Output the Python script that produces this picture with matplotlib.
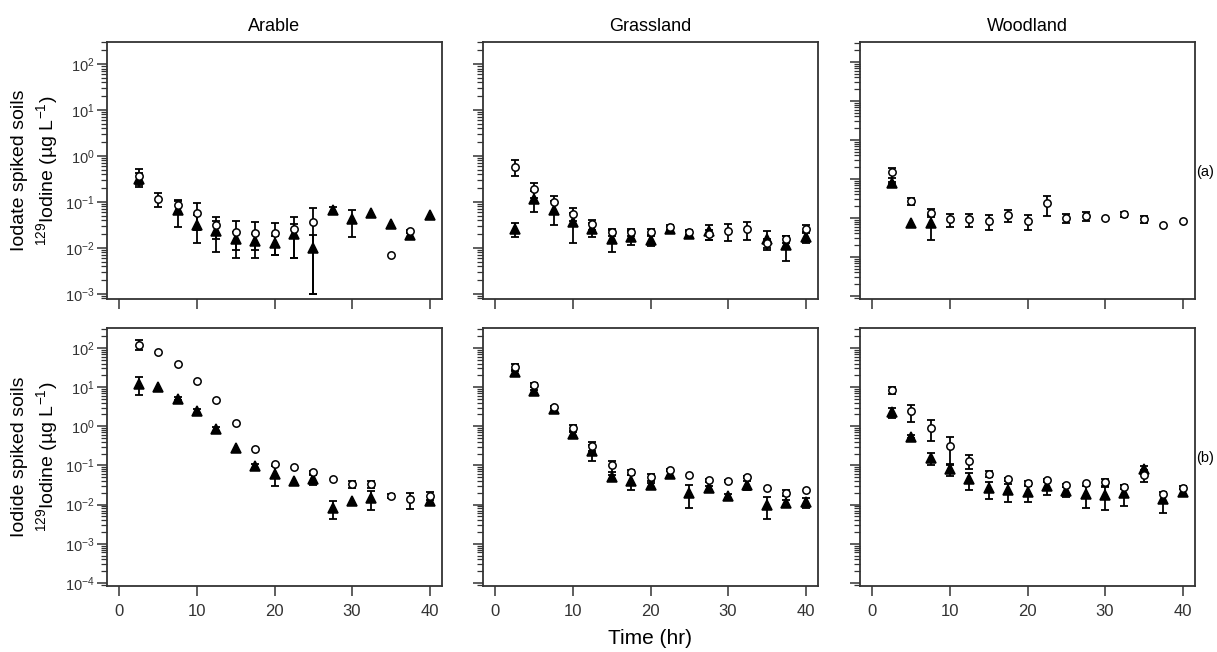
import numpy as np
import matplotlib
matplotlib.use("Agg")
import matplotlib.pyplot as plt
from matplotlib.ticker import LogLocator, NullFormatter, FixedLocator, FixedFormatter

plt.rcParams['font.family'] = ['Liberation Sans', 'DejaVu Sans']
plt.rcParams['mathtext.fontset'] = 'custom'
plt.rcParams['mathtext.rm'] = 'Liberation Sans'
plt.rcParams['mathtext.it'] = 'Liberation Sans:italic'
plt.rcParams['mathtext.bf'] = 'Liberation Sans:bold'

# ---------------- data ----------------
time_hr = [2.5, 5, 7.5, 10, 12.5, 15, 17.5, 20, 22.5, 25, 27.5, 30, 32.5, 35, 37.5, 40]
nan = np.nan

columns = ["Arable", "Grassland", "Woodland"]
row_labels = ["Iodate spiked soils", "Iodide spiked soils"]
panel_tags = ["(a)", "(b)"]

# Iodate spiked soils (row a)
arable_iodate_circ = [0.37, 0.117, 0.085, 0.059, 0.032, 0.022, 0.021, 0.021, 0.026, 0.037, nan, nan, nan, 0.0071, 0.023, nan]
arable_iodate_circ_sd = [0.14, 0.038, 0.025, 0.034, 0.016, 0.016, 0.015, 0.014, 0.02, 0.036, 0, 0, 0, 0, 0.002, 0]
arable_iodate_tri = [0.32, nan, 0.067, 0.032, 0.023, 0.0155, 0.0145, 0.0126, 0.02, 0.0099, 0.067, 0.042, 0.059, 0.033, 0.019, 0.052]
arable_iodate_tri_sd = [0.11, 0, 0.039, 0.019, 0.015, 0.0065, 0.0055, 0.0056, 0.014, 0.0089, 0.012, 0.025, 0, 0, 0.003, 0]

grass_iodate_circ = [0.59, 0.19, 0.098, 0.056, 0.033, 0.022, 0.022, 0.022, 0.028, 0.022, 0.020, 0.0235, 0.026, 0.013, 0.0156, 0.026]
grass_iodate_circ_sd = [0.22, 0.07, 0.04, 0.017, 0.008, 0.004, 0.004, 0.004, 0.003, 0.003, 0.005, 0.009, 0.011, 0.003, 0.003, 0.005]
grass_iodate_tri = [0.026, 0.117, 0.068, 0.036, 0.026, 0.016, 0.0177, 0.015, 0.026, 0.02, 0.023, nan, nan, 0.016, 0.0117, 0.0177]
grass_iodate_tri_sd = [0.009, 0.055, 0.037, 0.023, 0.009, 0.008, 0.006, 0.004, 0.002, 0.003, 0.008, 0, 0, 0.007, 0.0065, 0.005]

wood_iodate_circ = [0.149, 0.027, 0.0135, 0.0094, 0.0094, 0.0083, 0.0117, 0.0083, 0.0234, 0.0102, 0.0112, 0.0102, 0.0123, 0.0094, 0.0065, 0.0083]
wood_iodate_circ_sd = [0.044, 0.005, 0.003, 0.0035, 0.0035, 0.0034, 0.004, 0.0034, 0.012, 0.0027, 0.003, 0, 0.0017, 0.0018, 0, 0]
wood_iodate_tri = [0.080, 0.0074, 0.0072, nan, nan, nan, nan, nan, nan, nan, nan, nan, nan, nan, nan, nan]
wood_iodate_tri_sd = [0.005, 0, 0.0045, 0, 0, 0, 0, 0, 0, 0, 0, 0, 0, 0, 0, 0]

# Iodide spiked soils (row b)
arable_iodide_circ = [122, 77, 39, 14.7, 4.6, 1.22, 0.26, 0.109, 0.091, 0.067, 0.044, 0.033, 0.033, 0.0163, 0.0138, 0.017]
arable_iodide_circ_sd = [35, 0, 0, 0, 0, 0, 0, 0, 0, 0.006, 0, 0.007, 0.006, 0.002, 0.006, 0.004]
arable_iodide_tri = [12.3, 10, 5.1, 2.5, 0.85, 0.28, 0.096, 0.062, 0.041, 0.044, 0.0082, 0.0126, 0.0148, nan, nan, 0.0126]
arable_iodide_tri_sd = [6, 0, 0.5, 0.3, 0.1, 0, 0.01, 0.032, 0, 0.012, 0.004, 0, 0.0075, 0, 0, 0]

grass_iodide_circ = [32.7, 11.5, 3.05, 0.91, 0.32, 0.1, 0.067, 0.051, 0.076, 0.056, 0.042, 0.04, 0.051, 0.027, 0.02, 0.024]
grass_iodide_circ_sd = [7, 1.5, 0.2, 0.15, 0.08, 0.033, 0.011, 0.01, 0.006, 0, 0.004, 0.003, 0.004, 0, 0.003, 0]
grass_iodide_tri = [24, 7.8, 2.7, 0.65, 0.23, 0.052, 0.04, 0.031, 0.062, 0.02, 0.027, 0.017, 0.032, 0.01, 0.011, 0.0114]
grass_iodide_tri_sd = [3, 0.8, 0.2, 0.08, 0.1, 0.006, 0.017, 0.004, 0.008, 0.012, 0.003, 0.002, 0.008, 0.0058, 0.002, 0.0034]

wood_iodide_circ = [8.3, 2.4, 0.91, 0.32, 0.13, 0.062, 0.044, 0.036, 0.042, 0.031, 0.035, 0.037, 0.028, 0.058, 0.019, 0.027]
wood_iodide_circ_sd = [1.8, 1.1, 0.5, 0.21, 0.05, 0.012, 0.005, 0.004, 0.004, 0.003, 0, 0.008, 0.003, 0.02, 0, 0.002]
wood_iodide_tri = [2.3, 0.54, 0.155, 0.079, 0.044, 0.026, 0.023, 0.021, 0.029, 0.022, 0.019, 0.018, 0.02, 0.079, 0.0135, 0.0205]
wood_iodide_tri_sd = [0.7, 0.05, 0.05, 0.025, 0.02, 0.012, 0.0115, 0.0095, 0.011, 0.006, 0.011, 0.0108, 0.011, 0.02, 0.0073, 0.004]

panels = [
    [(arable_iodate_circ, arable_iodate_circ_sd, arable_iodate_tri, arable_iodate_tri_sd),
     (grass_iodate_circ, grass_iodate_circ_sd, grass_iodate_tri, grass_iodate_tri_sd),
     (wood_iodate_circ, wood_iodate_circ_sd, wood_iodate_tri, wood_iodate_tri_sd)],
    [(arable_iodide_circ, arable_iodide_circ_sd, arable_iodide_tri, arable_iodide_tri_sd),
     (grass_iodide_circ, grass_iodide_circ_sd, grass_iodide_tri, grass_iodide_tri_sd),
     (wood_iodide_circ, wood_iodide_circ_sd, wood_iodide_tri, wood_iodide_tri_sd)],
]

# ---------------- layout ----------------
W, H = 1217, 652
fig = plt.figure(figsize=(W / 100, H / 100), dpi=100)

lefts_px = [107, 483, 860]
width_px = 335
rows_px = [(42, 299), (328, 586)]

ylims = [[(10 ** -3.11, 10 ** 2.48), (10 ** -3.11, 10 ** 2.48), (10 ** -4.08, 10 ** 2.51)],
         [(10 ** -4.08, 10 ** 2.51), (10 ** -4.08, 10 ** 2.51), (10 ** -4.08, 10 ** 2.51)]]

frame_col = '#333333'
xt = [0, 10, 20, 30, 40]


def draw_series(ax, vals, sds, marker, face, ms, z):
    v = np.array(vals, float)
    sd = np.array(sds, float)
    m = (~np.isnan(v)) & (sd > 0)
    t = np.array(time_hr, float)
    lower = np.where(v - sd > 0, sd, v - 1e-6)
    ax.errorbar(t[m], v[m], yerr=[lower[m], sd[m]], fmt='none', ecolor='black',
                elinewidth=1.3, capsize=2.7, capthick=1.3, zorder=z)
    ax.plot(t, v, ls='none', marker=marker, markerfacecolor=face,
            markeredgecolor='black', markeredgewidth=1.1, markersize=ms, zorder=z + 1)


for r in range(2):
    top, bot = rows_px[r]
    for c in range(3):
        ax = fig.add_axes([lefts_px[c] / W, 1 - bot / H, width_px / W, (bot - top) / H])
        circ, circ_sd, tri, tri_sd = panels[r][c]
        draw_series(ax, tri, tri_sd, '^', 'black', 7.0, 2)
        draw_series(ax, circ, circ_sd, 'o', 'white', 5.3, 4)
        ax.set_yscale('log')
        ax.set_ylim(*ylims[r][c])
        ax.set_xlim(-1.6, 41.6)
        ax.set_xticks(xt)
        lo_exp = -3 if (r == 0 and c < 2) else -4
        majors = [10.0 ** e for e in range(lo_exp, 3)]
        ax.yaxis.set_major_locator(FixedLocator(majors))
        ax.yaxis.set_minor_locator(LogLocator(base=10, subs=np.arange(2, 10), numticks=20))
        ax.yaxis.set_minor_formatter(NullFormatter())
        if c == 0:
            ax.yaxis.set_major_formatter(FixedFormatter([r'$10^{%d}$' % e for e in range(lo_exp, 3)]))
        else:
            ax.set_yticklabels([])
        if r == 1:
            ax.set_xticklabels([str(x) for x in xt])
        else:
            ax.set_xticklabels([])
        ax.tick_params(axis='both', which='major', direction='out', length=7, width=1.1,
                       color=frame_col, labelcolor='#333333')
        ax.tick_params(axis='y', which='minor', direction='out', length=4, width=0.9, color=frame_col)
        ax.tick_params(axis='y', which='major', labelsize=10.5, pad=2)
        ax.tick_params(axis='x', which='major', labelsize=12, pad=6)
        for s in ax.spines.values():
            s.set_color(frame_col)
            s.set_linewidth(1.3)
        if r == 0:
            ax.set_title(columns[c], fontsize=13, pad=8)
        if c == 0:
            yc = 1 - (top + bot) / 2 / H
            fig.text(20 / W, yc, row_labels[r], rotation=90, fontsize=14,
                     ha='center', va='center')
            fig.text(47 / W, yc, r'$^{129}$Iodine (µg L$^{-1}$)', rotation=90, fontsize=14,
                     ha='center', va='center')

fig.text(1205 / W, 1 - 172 / H, panel_tags[0], fontsize=10.5, ha='center', va='center')
fig.text(1205 / W, 1 - 458 / H, panel_tags[1], fontsize=10.5, ha='center', va='center')
fig.text(650 / W, 1 - 638 / H, 'Time (hr)', fontsize=15, ha='center', va='center')

fig.savefig('out.png', dpi=100, facecolor='white')
